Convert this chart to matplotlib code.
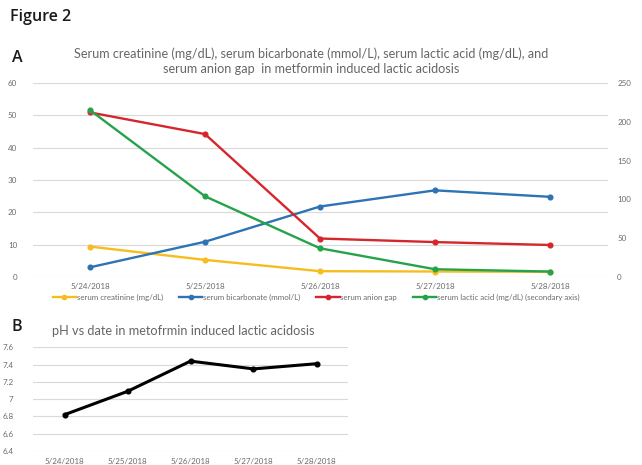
import matplotlib
matplotlib.use("Agg")
import matplotlib.pyplot as plt

plt.rcParams['font.family'] = ['Lato', 'DejaVu Sans']

# ---- data ----
dates = ["5/24/2018", "5/25/2018", "5/26/2018", "5/27/2018", "5/28/2018"]
creatinine = [9.4, 5.3, 1.8, 1.7, 1.6]          # mg/dL
bicarbonate = [3.0, 10.9, 21.8, 26.8, 24.8]     # mmol/L
anion_gap = [50.9, 44.2, 11.9, 10.8, 9.9]
lactic_acid = [215, 104, 37, 10, 7]             # mg/dL, secondary axis
ph = [6.82, 7.09, 7.44, 7.35, 7.41]

left_ticks = [0, 10, 20, 30, 40, 50, 60]
right_ticks = [0, 50, 100, 150, 200, 250]
ph_ticks = [6.4, 6.6, 6.8, 7.0, 7.2, 7.4, 7.6]
ph_tick_labels = ["6.4", "6.6", "6.8", "7", "7.2", "7.4", "7.6"]

W, H = 642, 465
fig = plt.figure(figsize=(W / 100, H / 100), dpi=100)
fig.patch.set_facecolor("white")

def px_axes(x0, y0, x1, y1):
    # x0,y0 top-left; x1,y1 bottom-right in pixel coordinates
    return fig.add_axes([x0 / W, 1 - y1 / H, (x1 - x0) / W, (y1 - y0) / H])

GRAY_TXT = "#666666"
TICK_TXT = "#6b6b6b"
GRID = "#D9D9D9"
YELLOW = "#F5BE1E"
BLUE = "#2E73B4"
RED = "#D7262B"
GREEN = "#26A34A"

fig.text(10 / W, 1 - 17 / H, "Figure 2", fontsize=11.5, va="center", ha="left",
         color="#1a1a1a", family=['Open Sans', 'DejaVu Sans'], fontweight="semibold")
fig.text(12 / W, 1 - 58 / H, "A", fontsize=11.5, va="center", ha="left",
         color="#1a1a1a", family=['Open Sans', 'DejaVu Sans'], fontweight="semibold")
fig.text(311 / W, 1 - 61 / H,
         "Serum creatinine (mg/dL), serum bicarbonate (mmol/L), serum lactic acid (mg/dL), and\n"
         "serum anion gap  in metformin induced lactic acidosis",
         fontsize=9.1, ha="center", va="center", color=GRAY_TXT, linespacing=1.3)

# ---- panel A ----
ax = px_axes(32.5, 83, 607.5, 277)
x = list(range(len(dates)))
ax.set_xlim(-0.5, len(dates) - 0.5)
ax.set_ylim(0, 60)
ax.set_yticks(left_ticks)
ax.grid(axis="y", color=GRID, linewidth=0.8)
ax.set_axisbelow(True)
for s in ax.spines.values():
    s.set_visible(False)
ax.tick_params(axis="both", length=0, labelsize=5.8, labelcolor=TICK_TXT)
ax.tick_params(axis="y", pad=11)
ax.tick_params(axis="x", pad=4)
ax.set_xticks(x)
ax.set_xticklabels(dates)

kw = dict(linewidth=1.7, marker="o", markersize=3.4)
l1, = ax.plot(x, creatinine, color=YELLOW, **kw)
l2, = ax.plot(x, bicarbonate, color=BLUE, **kw)
l3, = ax.plot(x, anion_gap, color=RED, **kw)

ax2 = ax.twinx()
ax2.set_ylim(0, 250)
ax2.set_yticks(right_ticks)
for s in ax2.spines.values():
    s.set_visible(False)
ax2.tick_params(axis="y", length=0, labelsize=5.8, labelcolor=TICK_TXT, pad=7)
l4, = ax2.plot(x, lactic_acid, color=GREEN, **kw)

fig.legend([l1, l2, l3, l4],
           ["serum creatinine (mg/dL)", "serum bicarbonate (mmol/L)",
            "serum anion gap", "serum lactic acid (mg/dL) (secondary axis)"],
           loc="center", bbox_to_anchor=(316 / W, 1 - 297.5 / H), ncol=4,
           frameon=False, fontsize=5.7, labelcolor=TICK_TXT, handlelength=3.0,
           handletextpad=0.05, columnspacing=2.0, borderpad=0, markerscale=0.9)

# ---- panel B ----
fig.text(12 / W, 1 - 327 / H, "B", fontsize=11.5, va="center", ha="left",
         color="#1a1a1a", family=['Open Sans', 'DejaVu Sans'], fontweight="semibold")
fig.text(183 / W, 1 - 331 / H, "pH vs date in metofrmin induced lactic acidosis",
         fontsize=9.2, ha="center", va="center", color=GRAY_TXT)

bx = px_axes(33, 347.3, 348, 451)
bx.set_xlim(-0.5, len(dates) - 0.5)
bx.set_ylim(6.4, 7.6)
bx.set_yticks(ph_ticks)
bx.set_yticklabels(ph_tick_labels)
bx.grid(axis="y", color=GRID, linewidth=0.8)
bx.set_axisbelow(True)
for s in bx.spines.values():
    s.set_visible(False)
bx.tick_params(axis="both", length=0, labelsize=5.8, labelcolor=TICK_TXT)
bx.tick_params(axis="y", pad=14)
bx.tick_params(axis="x", pad=5)
bx.set_xticks(x)
bx.set_xticklabels(dates)
bx.plot(x, ph, color="black", linewidth=2.2, marker="o", markersize=3.4)

fig.savefig("out.png", dpi=100)
